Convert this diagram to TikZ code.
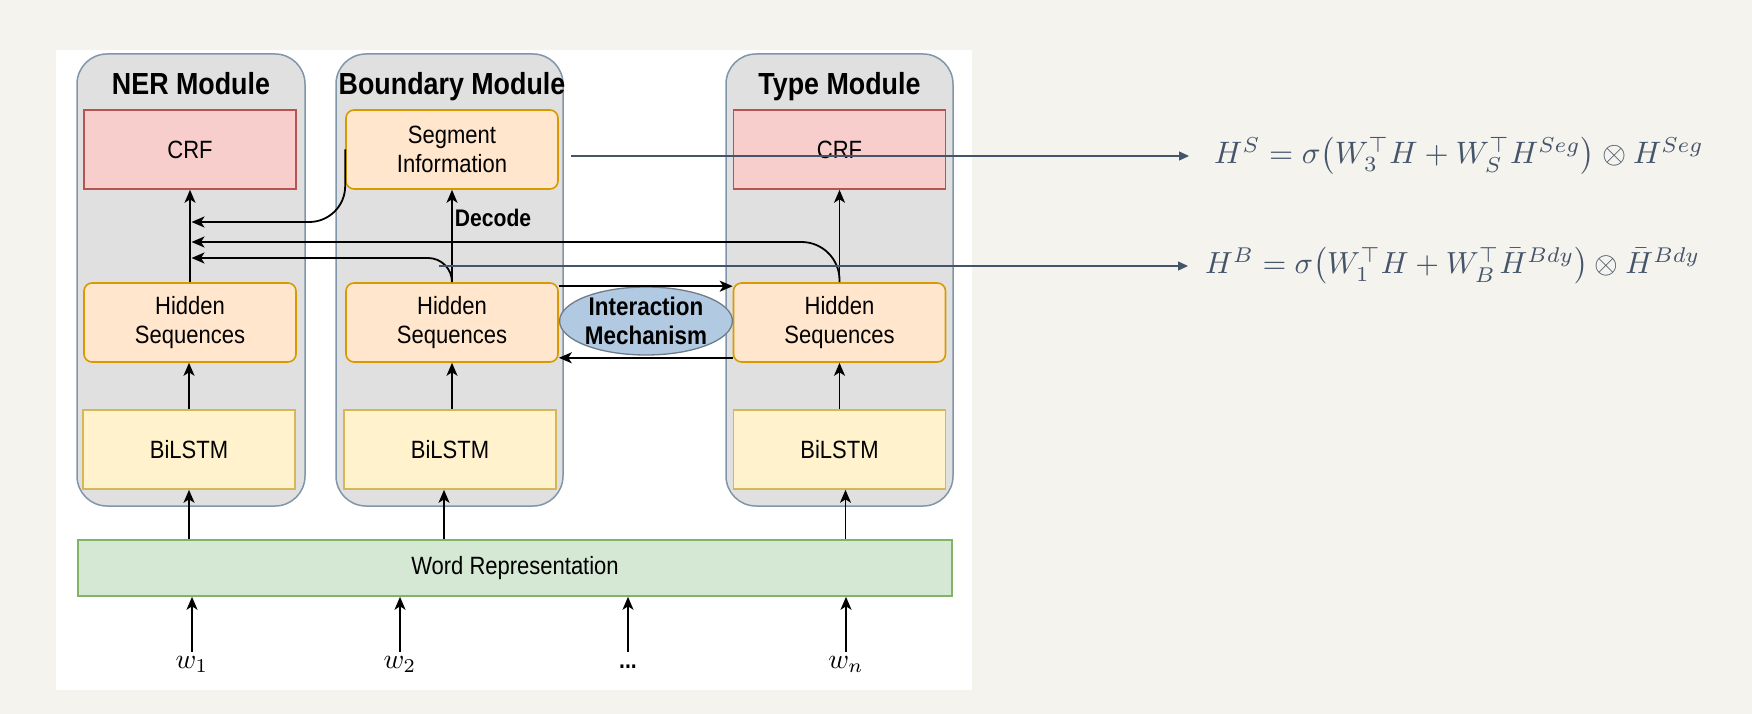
\documentclass[tikz,border=0pt]{standalone}
\usepackage{amsmath}
\usepackage{graphicx}
\usepackage[no-math]{fontspec}
\setmainfont{Liberation Sans}[FakeStretch=0.88]
\usetikzlibrary{arrows.meta,shapes.geometric}
\definecolor{bgc}{HTML}{F4F3EE}
\definecolor{modf}{HTML}{E0E0E0}
\definecolor{modb}{HTML}{8096AA}
\definecolor{crff}{HTML}{F8CECC}
\definecolor{crfb}{HTML}{B85450}
\definecolor{orf}{HTML}{FFE6CC}
\definecolor{orb}{HTML}{D79B00}
\definecolor{bilf}{HTML}{FFF2CC}
\definecolor{bilb}{HTML}{D6B656}
\definecolor{wrf}{HTML}{D5E8D4}
\definecolor{wrb}{HTML}{82B366}
\definecolor{imf}{HTML}{B1C9E1}
\definecolor{imb}{HTML}{6F7C89}
\definecolor{fcol}{HTML}{44546A}
\begin{document}
\begin{tikzpicture}[x=1pt,y=-1pt,
  module/.style={draw=modb,fill=modf,line width=1.5pt,rounded corners=30pt,minimum width=228pt,minimum height=452pt,inner sep=0pt},
  title/.style={font=\fontsize{30.5}{34}\selectfont\bfseries,anchor=base,inner sep=0pt},
  boxtxt/.style={font=\fontsize{25}{28.5}\selectfont,align=center,inner sep=0pt,minimum width=212pt,minimum height=79pt},
  crf/.style={boxtxt,draw=crfb,fill=crff,line width=1.6pt},
  obox/.style={boxtxt,draw=orb,fill=orf,line width=1.6pt,rounded corners=8pt},
  bil/.style={boxtxt,draw=bilb,fill=bilf,line width=1.6pt},
  arr/.style={-{Stealth[length=13pt,width=11pt,inset=3.5pt]},line width=1.8pt,black},
  fline/.style={draw=fcol,line width=1.2pt,-{Triangle[length=10pt,width=9pt]}},
  wlab/.style={anchor=base,text height=14pt,text depth=5pt,inner sep=2pt},
  formula/.style={anchor=west,text=fcol,inner sep=0pt},
]
\fill[bgc] (0,0) rectangle (1752,714);
\fill[white] (56,50) rectangle (972,690);

\node[module] (nmod) at (191,280) {};
\node[module, minimum width=227pt] (bmod) at (449.5,280) {};
\node[module, minimum width=227pt] (tmod) at (839.5,280) {};

\node[title] (ntit) at (191,95) {NER Module};
\node[title] (btit) at (452,95) {Boundary Module};
\node[title] (ttit) at (839.5,95) {Type Module};

\node[crf] (ncrf) at (190,149.5) {CRF};
\node[obox] (seg) at (452,149.5) {Segment\\Information};
\node[crf] (tcrf) at (839.5,149.5) {CRF};
\node[obox] (nhid) at (190,322.5) {Hidden\\Sequences};
\node[obox] (bhid) at (452,322.5) {Hidden\\Sequences};
\node[obox] (thid) at (839.5,322.5) {Hidden\\Sequences};
\node[bil] (nbil) at (189,449.5) {BiLSTM};
\node[bil] (bbil) at (450,449.5) {BiLSTM};
\node[bil] (tbil) at (839.5,449.5) {BiLSTM};
\node[boxtxt, draw=wrb, fill=wrf, line width=1.6pt, minimum width=874pt, minimum height=56pt] (wrep) at (515,568) {Word Representation};

\node[ellipse, draw=imb, fill=imf, line width=1.3pt, minimum width=150pt, minimum height=68pt, inner sep=0pt, align=center, font=\fontsize{25.5}{29}\selectfont\bfseries] (im) at (646,321) {Interaction\\Mechanism};

\node[wlab] (w1) at (192,668) {\scalebox{2.8}{$w_1$}};
\node[wlab] (w2) at (400,668) {\scalebox{2.8}{$w_2$}};
\node[wlab, font=\fontsize{24}{26}\selectfont\bfseries] (wd) at (628,668) {...};
\node[wlab] (wn) at (846,668) {\scalebox{2.8}{$w_n$}};

\foreach \w in {w1,w2,wd,wn} \draw[arr] (\w.north) -- (\w.north |- wrep.south);
\draw[arr] (nbil.south |- wrep.north) -- (nbil.south);
\draw[arr] ([xshift=-6pt]bbil.south |- wrep.north) -- ([xshift=-6pt]bbil.south);
\draw[arr] ([xshift=6pt]tbil.south |- wrep.north) -- ([xshift=6pt]tbil.south);
\draw[arr] (nbil.north) -- (nbil.north |- nhid.south);
\draw[arr] (bhid.south |- bbil.north) -- (bhid.south);
\draw[arr] (tbil.north) -- (tbil.north |- thid.south);
\draw[arr] (nhid.north) -- (ncrf.south);
\draw[arr] (bhid.north) -- node[pos=0.6, anchor=base west, font=\fontsize{24}{26}\selectfont\bfseries, inner sep=2pt] (dec) {Decode} (seg.south);
\draw[arr] (thid.north) -- (tcrf.south);

\draw[arr] ([yshift=-4pt]bhid.north east) -- ([yshift=-4pt]thid.north west);
\draw[arr] ([yshift=5pt]thid.south west) -- ([yshift=5pt]bhid.south east);

\coordinate (t1) at ([xshift=1.5pt]nhid.north |- 0,222);
\coordinate (t2) at ([xshift=1.5pt]nhid.north |- 0,242);
\coordinate (t3) at ([xshift=1.5pt]nhid.north |- 0,258);
\draw[arr, rounded corners=36pt] (seg.west) |- (t1);
\draw[arr, rounded corners=38pt] (thid.north) |- (t2);
\draw[arr, rounded corners=24pt] (bhid.north) |- (t3);

\node[formula] (f1) at (1214,156) {\scalebox{3.1}{$H^{S} = \sigma\bigl(W_3^{\top} H + W_S^{\top} H^{Seg}\bigr) \otimes H^{Seg}$}};
\node[formula] (f2) at (1205,266) {\scalebox{3.05}{$H^{B} = \sigma\bigl(W_1^{\top} H + W_B^{\top} \bar{H}^{Bdy}\bigr) \otimes \bar{H}^{Bdy}$}};
\coordinate (la) at (571,156);
\coordinate (lb) at (439,266);
\draw[fline] (la) -- ([xshift=-25pt]f1.west);
\draw[fline] (lb) -- ([xshift=-17pt]f2.west);
\end{tikzpicture}
\end{document}
